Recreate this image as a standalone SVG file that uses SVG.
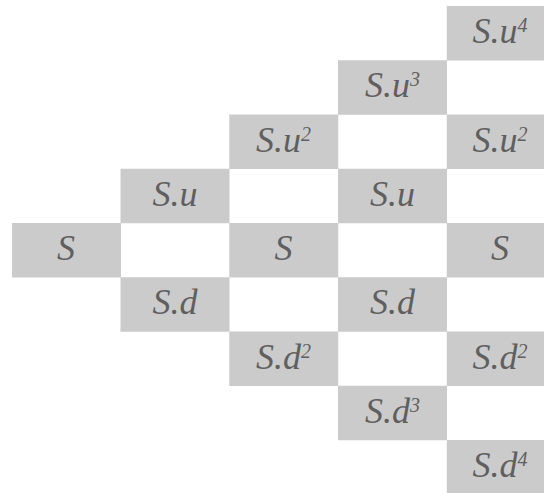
<svg xmlns="http://www.w3.org/2000/svg" width="544" height="493" viewBox="0 0 544 493">
<style>
.box{fill:#cbcbcb}
.t{font-family:"Liberation Serif","Times New Roman",serif;font-style:italic;font-size:36px;fill:#5f5f5f;text-anchor:middle}
.sup{font-size:20px}
</style>
<rect width="544" height="493" fill="#ffffff"/>
<g id="connectors"></g>
<g id="n0"><rect class="box" x="12" y="223" width="109" height="54.5"/><text class="t" x="66" y="260">S</text></g>
<g id="n1u"><rect class="box" x="120.5" y="168.75" width="109" height="54.5"/><text class="t" x="175" y="206">S.u</text></g>
<g id="n1d"><rect class="box" x="120.5" y="277.25" width="109" height="54.5"/><text class="t" x="175" y="314">S.d</text></g>
<g id="n2uu"><rect class="box" x="229.25" y="114.5" width="109" height="54.5"/><text class="t" x="283.5" y="151.5">S.u<tspan class="sup" dy="-11">2</tspan></text></g>
<g id="n2s"><rect class="box" x="229.25" y="223" width="109" height="54.5"/><text class="t" x="283.5" y="260">S</text></g>
<g id="n2dd"><rect class="box" x="229.25" y="331.5" width="109" height="54.5"/><text class="t" x="283.5" y="368.5">S.d<tspan class="sup" dy="-11">2</tspan></text></g>
<g id="n3u3"><rect class="box" x="338" y="60.25" width="109" height="54.5"/><text class="t" x="392.5" y="97.25">S.u<tspan class="sup" dy="-11">3</tspan></text></g>
<g id="n3u"><rect class="box" x="338" y="168.75" width="109" height="54.5"/><text class="t" x="392.5" y="206">S.u</text></g>
<g id="n3d"><rect class="box" x="338" y="277.25" width="109" height="54.5"/><text class="t" x="392.5" y="314">S.d</text></g>
<g id="n3d3"><rect class="box" x="338" y="385.75" width="109" height="54.5"/><text class="t" x="392.5" y="422.75">S.d<tspan class="sup" dy="-11">3</tspan></text></g>
<g id="n4u4"><rect class="box" x="446.75" y="6" width="109" height="54.5"/><text class="t" x="500" y="43">S.u<tspan class="sup" dy="-11">4</tspan></text></g>
<g id="n4uu"><rect class="box" x="446.75" y="114.5" width="109" height="54.5"/><text class="t" x="500" y="151.5">S.u<tspan class="sup" dy="-11">2</tspan></text></g>
<g id="n4s"><rect class="box" x="446.75" y="223" width="109" height="54.5"/><text class="t" x="500" y="260">S</text></g>
<g id="n4dd"><rect class="box" x="446.75" y="331.5" width="109" height="54.5"/><text class="t" x="500" y="368.5">S.d<tspan class="sup" dy="-11">2</tspan></text></g>
<g id="n4d4"><rect class="box" x="446.75" y="440" width="109" height="54.5"/><text class="t" x="500" y="477">S.d<tspan class="sup" dy="-11">4</tspan></text></g>
</svg>
